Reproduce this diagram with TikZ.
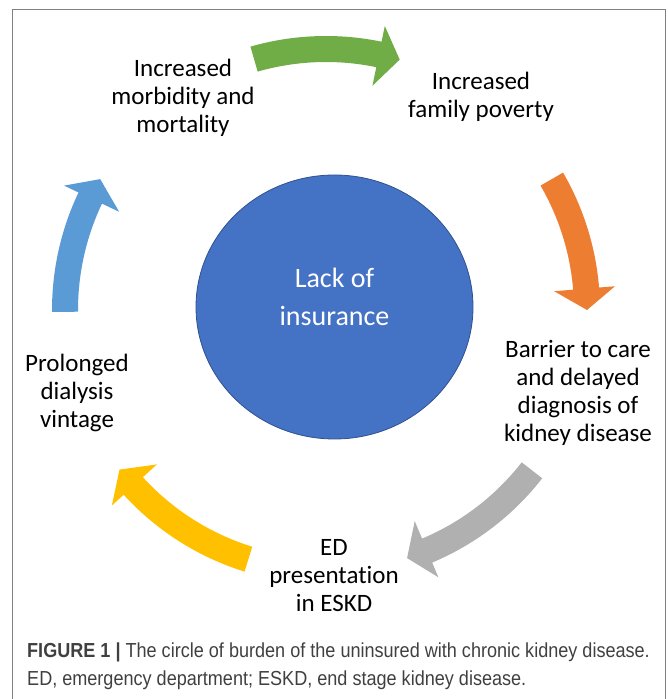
\documentclass[tikz,border=0pt]{standalone}
\usepackage{fontspec}
\setmainfont[Ligatures=NoCommon]{Carlito}
\newfontfamily\capfont[FakeStretch=0.89]{Liberation Sans}
\usetikzlibrary{shapes.geometric}

\definecolor{cycgreen}{HTML}{70AD47}
\definecolor{cycorange}{HTML}{ED7D31}
\definecolor{cycgray}{HTML}{B0B0B0}
\definecolor{cycyellow}{HTML}{FFC000}
\definecolor{cycblue}{HTML}{5B9BD5}
\definecolor{coreblue}{HTML}{4472C4}
\definecolor{coreedge}{HTML}{2F528F}
\definecolor{captext}{HTML}{404040}

% one curved block arrow of the cycle: colour, tail angle, tip angle
\newcommand\cyclearrow[3]{%
  \pgfmathsetmacro\headbase{#3+4.7}
  \fill[#1] (#2:274) arc[start angle=#2, end angle=\headbase, radius=274]
    -- (\headbase:290) -- (#3:261) -- (\headbase:229) -- (\headbase:248)
    arc[start angle=\headbase, end angle=#2, radius=248] -- cycle;}

\begin{document}
\begin{tikzpicture}[x=1pt, y=1pt,
    steptext/.style={align=center, inner sep=0pt, font=\fontsize{25}{28}\selectfont},
    captext/.style={anchor=west, inner sep=0pt, text=captext, font=\capfont\fontsize{20.3}{24}\selectfont}]

	\useasboundingbox (0,0) rectangle (668,699);
	\draw[gray, line width=1pt] (12,-5) -- (12,689) -- (665,689) -- (665,-5);

	% arrows around the circle
	\begin{scope}[shift={(326,389)}]
		\cyclearrow{cycgreen}{106}{73.6}
		\cyclearrow{cycorange}{30.1}{0}
		\cyclearrow{cycgray}{-37.9}{-71.9}
		\cyclearrow{cycyellow}{-107.3}{-142.3}
		\cyclearrow{cycblue}{180.4}{149.9}
	\end{scope}

	\node[ellipse, draw=coreedge, fill=coreblue, line width=0.8pt,
		minimum width=277, minimum height=264, inner sep=0pt] (core) at (334.5,392) {};
	\node[align=center, inner sep=0pt, text=white, font=\fontsize{28}{38}\selectfont]
		(lack) at ([yshift=10]core.center) {Lack of\\insurance};

	\node[steptext] (morbid) at (183,601) {Increased\\morbidity and\\mortality};
	\node[steptext] (poverty) at (481,602) {Increased\\family poverty};
	\node[steptext] (barrier) at (578,306) {Barrier to care\\and delayed\\diagnosis of\\kidney disease};
	\node[steptext] (edvisit) at (334,123) {ED\\presentation\\in ESKD};
	\node[steptext] (vintage) at (77,306) {Prolonged\\dialysis\\vintage};

	\node[captext] (capone) at (27,47) {\textbf{FIGURE 1 |} The circle of burden of the uninsured with chronic kidney disease.};
	\node[captext] (captwo) at (27,19) {ED, emergency department; ESKD, end stage kidney disease.};

\end{tikzpicture}
\end{document}
